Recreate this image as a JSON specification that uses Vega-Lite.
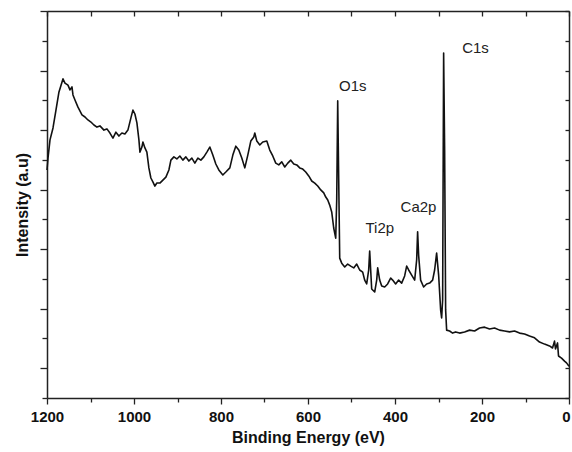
{
  "$schema": "https://vega.github.io/schema/vega-lite/v6.json",
  "width": 522,
  "height": 387,
  "autosize": {"type": "none"},
  "padding": {"left": 47, "top": 11, "right": 3, "bottom": 54},
  "background": "white",
  "config": {
    "view": {"stroke": null},
    "font": "Liberation Sans",
    "axis": {"domainColor": "#222", "domainWidth": 1.5, "tickColor": "#222", "tickWidth": 1.3, "grid": false}
  },
  "data": {"values": [
    {"be":1200.0,"intensity":766},{"be":1197.7,"intensity":806},{"be":1193.1,"intensity":867},{"be":1186.2,"intensity":907},
    {"be":1179.4,"intensity":967},{"be":1172.5,"intensity":1028},{"be":1165.6,"intensity":1061},{"be":1163.3,"intensity":1072},
    {"be":1158.7,"intensity":1058},{"be":1151.8,"intensity":1051},{"be":1147.2,"intensity":1035},{"be":1142.6,"intensity":1045},
    {"be":1140.3,"intensity":1018},{"be":1135.7,"intensity":1001},{"be":1128.8,"intensity":977},{"be":1119.6,"intensity":951},
    {"be":1112.7,"intensity":944},{"be":1105.9,"intensity":934},{"be":1099.0,"intensity":927},{"be":1092.1,"intensity":917},
    {"be":1085.2,"intensity":910},{"be":1078.3,"intensity":914},{"be":1069.1,"intensity":900},{"be":1062.2,"intensity":904},
    {"be":1055.3,"intensity":890},{"be":1048.4,"intensity":873},{"be":1041.6,"intensity":893},{"be":1034.7,"intensity":880},
    {"be":1027.8,"intensity":890},{"be":1020.9,"intensity":887},{"be":1014.0,"intensity":900},{"be":1007.1,"intensity":941},
    {"be":1002.5,"intensity":967},{"be":997.9,"intensity":954},{"be":993.3,"intensity":924},{"be":988.7,"intensity":867},
    {"be":986.4,"intensity":826},{"be":981.8,"intensity":843},{"be":979.5,"intensity":860},{"be":974.9,"intensity":840},
    {"be":970.4,"intensity":826},{"be":965.8,"intensity":773},{"be":961.2,"intensity":739},{"be":956.6,"intensity":726},
    {"be":952.0,"intensity":712},{"be":947.4,"intensity":722},{"be":940.5,"intensity":722},{"be":933.6,"intensity":732},
    {"be":926.7,"intensity":742},{"be":919.8,"intensity":766},{"be":915.2,"intensity":799},{"be":908.3,"intensity":810},
    {"be":901.5,"intensity":803},{"be":894.6,"intensity":813},{"be":887.7,"intensity":799},{"be":880.8,"intensity":810},
    {"be":873.9,"intensity":796},{"be":867.0,"intensity":806},{"be":860.1,"intensity":789},{"be":853.2,"intensity":806},
    {"be":846.3,"intensity":799},{"be":839.4,"intensity":810},{"be":832.5,"intensity":826},{"be":825.7,"intensity":843},
    {"be":818.8,"intensity":816},{"be":811.9,"intensity":786},{"be":805.0,"intensity":766},{"be":795.8,"intensity":749},
    {"be":788.9,"intensity":759},{"be":779.7,"intensity":773},{"be":772.8,"intensity":816},{"be":766.0,"intensity":846},
    {"be":759.1,"intensity":833},{"be":752.2,"intensity":806},{"be":745.3,"intensity":773},{"be":738.4,"intensity":816},
    {"be":731.5,"intensity":863},{"be":724.6,"intensity":877},{"be":722.3,"intensity":890},{"be":717.7,"intensity":863},
    {"be":710.8,"intensity":850},{"be":703.9,"intensity":860},{"be":694.7,"intensity":863},{"be":687.9,"intensity":833},
    {"be":681.0,"intensity":813},{"be":674.1,"intensity":789},{"be":667.2,"intensity":783},{"be":660.3,"intensity":793},
    {"be":653.4,"intensity":776},{"be":646.5,"intensity":789},{"be":639.6,"intensity":799},{"be":632.7,"intensity":786},
    {"be":625.8,"intensity":783},{"be":619.0,"intensity":773},{"be":612.1,"intensity":769},{"be":605.2,"intensity":759},
    {"be":598.3,"intensity":746},{"be":591.4,"intensity":729},{"be":584.5,"intensity":722},{"be":577.6,"intensity":712},
    {"be":570.7,"intensity":699},{"be":563.8,"intensity":689},{"be":559.2,"intensity":675},{"be":554.6,"intensity":665},
    {"be":550.1,"intensity":648},{"be":545.5,"intensity":625},{"be":540.9,"intensity":571},{"be":536.3,"intensity":537},
    {"be":534.0,"intensity":665},{"be":531.7,"intensity":998},{"be":529.4,"intensity":732},{"be":527.1,"intensity":470},
    {"be":522.5,"intensity":453},{"be":515.6,"intensity":440},{"be":508.7,"intensity":450},{"be":501.8,"intensity":443},
    {"be":494.9,"intensity":437},{"be":488.0,"intensity":450},{"be":481.2,"intensity":430},{"be":474.3,"intensity":423},
    {"be":469.7,"intensity":396},{"be":465.1,"intensity":383},{"be":460.5,"intensity":430},{"be":458.2,"intensity":494},
    {"be":455.9,"intensity":430},{"be":453.6,"intensity":366},{"be":446.7,"intensity":356},{"be":442.1,"intensity":396},
    {"be":439.8,"intensity":437},{"be":435.2,"intensity":396},{"be":430.6,"intensity":376},{"be":423.7,"intensity":373},
    {"be":416.9,"intensity":383},{"be":410.0,"intensity":403},{"be":405.4,"intensity":396},{"be":398.5,"intensity":383},
    {"be":391.6,"intensity":396},{"be":384.7,"intensity":386},{"be":377.8,"intensity":410},{"be":373.2,"intensity":443},
    {"be":368.6,"intensity":430},{"be":361.7,"intensity":413},{"be":354.8,"intensity":396},{"be":350.2,"intensity":464},
    {"be":348.0,"intensity":558},{"be":345.7,"intensity":480},{"be":341.1,"intensity":396},{"be":334.2,"intensity":373},
    {"be":327.3,"intensity":383},{"be":320.4,"intensity":386},{"be":313.5,"intensity":396},{"be":308.9,"intensity":430},
    {"be":304.3,"intensity":487},{"be":299.7,"intensity":413},{"be":295.1,"intensity":296},{"be":292.8,"intensity":269},
    {"be":290.5,"intensity":329},{"be":288.2,"intensity":1159},{"be":285.9,"intensity":833},{"be":283.6,"intensity":296},
    {"be":281.3,"intensity":228},{"be":274.5,"intensity":225},{"be":267.6,"intensity":218},{"be":260.7,"intensity":222},
    {"be":251.5,"intensity":218},{"be":240.0,"intensity":222},{"be":228.5,"intensity":228},{"be":217.0,"intensity":225},
    {"be":205.6,"intensity":235},{"be":194.1,"intensity":238},{"be":182.6,"intensity":232},{"be":171.1,"intensity":235},
    {"be":159.6,"intensity":228},{"be":148.1,"intensity":225},{"be":136.7,"intensity":222},{"be":125.2,"intensity":225},
    {"be":113.7,"intensity":218},{"be":102.2,"intensity":215},{"be":90.7,"intensity":208},{"be":79.2,"intensity":202},
    {"be":67.8,"intensity":188},{"be":56.3,"intensity":181},{"be":44.8,"intensity":175},{"be":37.9,"intensity":168},
    {"be":33.3,"intensity":191},{"be":31.0,"intensity":165},{"be":26.4,"intensity":185},{"be":24.1,"intensity":141},
    {"be":17.2,"intensity":134},{"be":10.3,"intensity":124},{"be":5.7,"intensity":118},{"be":0.0,"intensity":107}
  ]},
  "resolve": {"axis": {"x": "independent", "y": "independent"}},
  "layer": [
    {
      "mark": {"type": "line", "color": "#111", "strokeWidth": 1.6, "interpolate": "linear", "strokeJoin": "round"},
      "encoding": {
        "x": {
          "field": "be", "type": "quantitative",
          "scale": {"domain": [0, 1200], "reverse": true, "nice": false, "zero": false},
          "axis": {
            "orient": "bottom",
            "values": [0,100,200,300,400,500,600,700,800,900,1000,1100,1200],
            "format": "d",
            "labelExpr": "datum.value % 200 === 0 ? datum.label : ''",
            "labelOverlap": false,
            "labelFlush": false,
            "labelOffset": {"condition": {"test": "datum.value === 0", "value": -3}, "value": 0},
            "tickSize": {"condition": {"test": "datum.value % 200 === 0", "value": 6}, "value": 4},
            "labelFont": "Liberation Sans", "labelFontSize": 15, "labelFontWeight": "bold", "labelColor": "#111",
            "labelPadding": 5,
            "title": "Binding Energy (eV)",
            "titleFont": "Liberation Sans", "titleFontSize": 16, "titleFontWeight": "bold", "titleColor": "#111",
            "titlePadding": 5
          }
        },
        "y": {
          "field": "intensity", "type": "quantitative",
          "scale": {"domain": [0, 1300], "nice": false, "zero": false},
          "axis": {
            "orient": "left",
            "values": [0,100,200,300,400,500,600,700,800,900,1000,1100,1200,1300],
            "labels": false,
            "tickSize": {"condition": {"test": "(datum.value / 100) % 2 === 1", "value": 7}, "value": 5},
            "title": "Intensity (a.u)",
            "titleFont": "Liberation Sans", "titleFontSize": 16, "titleFontWeight": "bold", "titleColor": "#111",
            "titlePadding": 9
          }
        }
      }
    },
    {
      "mark": {"type": "line", "strokeOpacity": 0},
      "encoding": {
        "x": {
          "field": "be", "type": "quantitative",
          "axis": {"orient": "top", "values": [0,100,200,300,400,500,600,700,800,900,1000,1100,1200], "labels": false, "tickSize": -5, "title": null}
        },
        "y": {
          "field": "intensity", "type": "quantitative",
          "axis": {"orient": "right", "values": [0,100,200,300,400,500,600,700,800,900,1000,1100,1200,1300], "labels": false, "tickSize": -4, "title": null}
        }
      }
    },
    {
      "data": {"values": [
        {"label": "O1s", "be": 497, "intensity": 1048},
        {"label": "C1s", "be": 215, "intensity": 1177},
        {"label": "Ca2p", "be": 346, "intensity": 643},
        {"label": "Ti2p", "be": 435, "intensity": 571}
      ]},
      "mark": {"type": "text", "font": "Liberation Sans", "fontSize": 15, "color": "#222", "baseline": "middle", "align": "center"},
      "encoding": {
        "x": {"field": "be", "type": "quantitative", "axis": null},
        "y": {"field": "intensity", "type": "quantitative", "axis": null},
        "text": {"field": "label", "type": "nominal"}
      }
    }
  ]
}
